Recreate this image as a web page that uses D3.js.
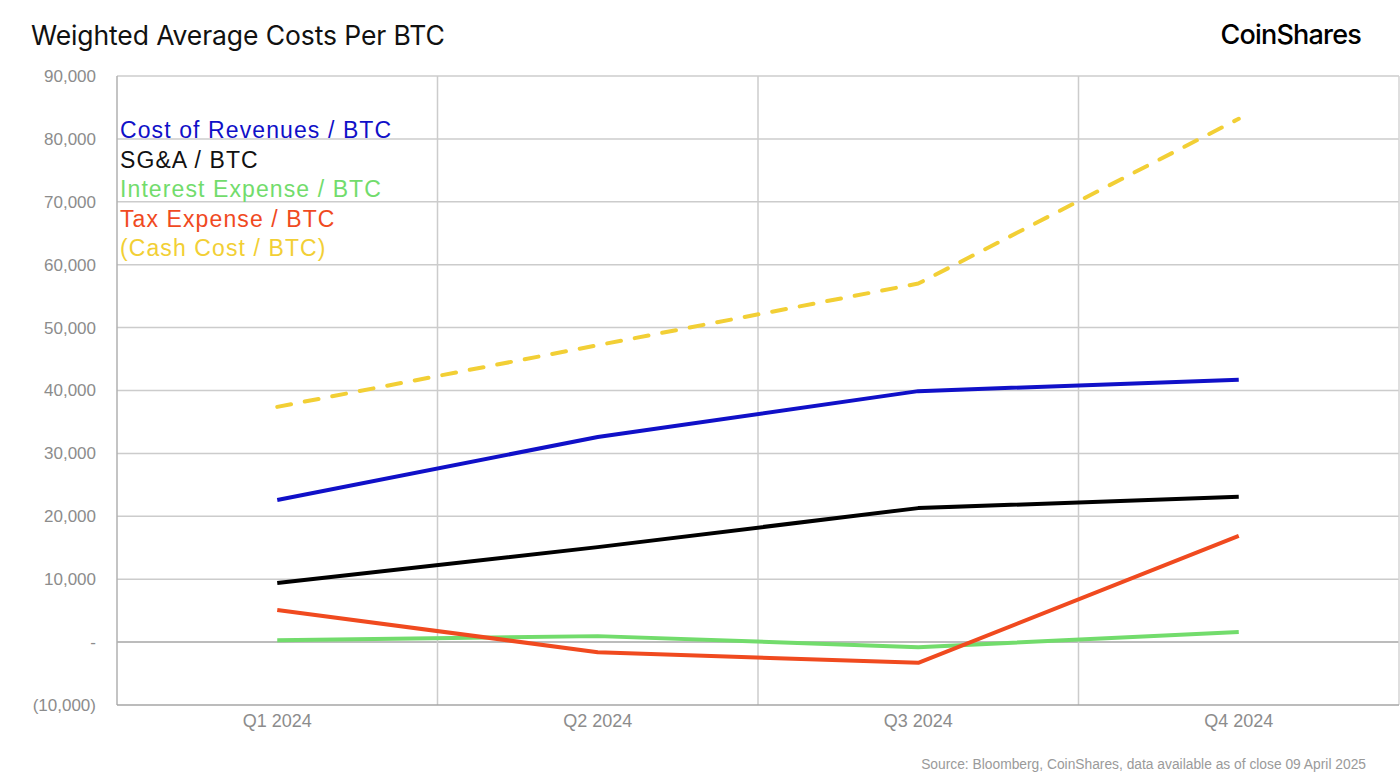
<!DOCTYPE html>
<html>
<head>
<meta charset="utf-8">
<script src="https://cdn.jsdelivr.net/npm/d3@7"></script>
<style>
	body { margin: 0; background: #fff; }
	svg { display: block; }
</style>
</head>
<body>
<div id="chart"></div>
<script>
var width = 1400;
var height = 782;

// quarters along the x axis
var quarters = ["Q1 2024", "Q2 2024", "Q3 2024", "Q4 2024"];

// values, USD per BTC
var costOfRevenues = [22600, 32600, 39900, 41700];
var sgaCost = [9400, 15100, 21300, 23100];
var interestExpense = [300, 950, -800, 1600];
var taxExpense = [5100, -1600, -3300, 16900];
var cashCost = [37400, 47200, 57000, 83200];

var yTicks = [-10000, 0, 10000, 20000, 30000, 40000, 50000, 60000, 70000, 80000, 90000];

var series = [
	{ name: "Cost of Revenues / BTC", values: costOfRevenues, color: "#1010c8", dash: null },
	{ name: "SG&A / BTC", values: sgaCost, color: "#000000", dash: null },
	{ name: "Interest Expense / BTC", values: interestExpense, color: "#72dc6c", dash: null },
	{ name: "Tax Expense / BTC", values: taxExpense, color: "#f04a1f", dash: null },
	{ name: "(Cash Cost / BTC)", values: cashCost, color: "#f2cf35", dash: "14,14" }
	];

// draw order: yellow behind, then the rest as in the picture
var drawOrder = [4, 2, 3, 1, 0];

var plot = { left: 117, right: 1399, top: 76, bottom: 705 };

var svg = d3.select("#chart")
	.append("svg")
		.attr("width", width)
		.attr("height", height)
	;

var x = d3.scaleBand()
	.domain(quarters)
	.range([plot.left, plot.right]);

var y = d3.scaleLinear()
	.domain([-10000, 90000])
	.range([plot.bottom, plot.top]);

// horizontal gridlines
svg.append("g")
	.selectAll("line")
	.data(yTicks.filter(d => d !== -10000))
	.enter()
		.append("line")
			.attr("x1", plot.left)
			.attr("x2", plot.right)
			.attr("y1", d => y(d))
			.attr("y2", d => y(d))
			.attr("stroke", d => d === 0 ? "#a6a6a6" : "#cccccc")
			.attr("stroke-width", 1.5)
	;

// vertical gridlines between quarters, plus right border
svg.append("g")
	.selectAll("line")
	.data(quarters.slice(1))
	.enter()
		.append("line")
			.attr("x1", d => x(d))
			.attr("x2", d => x(d))
			.attr("y1", plot.top)
			.attr("y2", plot.bottom)
			.attr("stroke", "#cccccc")
			.attr("stroke-width", 1.5)
	;

svg.append("line")
	.attr("x1", plot.right).attr("x2", plot.right)
	.attr("y1", plot.top).attr("y2", plot.bottom)
	.attr("stroke", "#d4d4d4").attr("stroke-width", 1.5);

// axis lines
svg.append("line")
	.attr("x1", plot.left).attr("x2", plot.left)
	.attr("y1", plot.top).attr("y2", plot.bottom)
	.attr("stroke", "#b0b0b0").attr("stroke-width", 1.5);

svg.append("line")
	.attr("x1", plot.left).attr("x2", plot.right)
	.attr("y1", plot.bottom).attr("y2", plot.bottom)
	.attr("stroke", "#a6a6a6").attr("stroke-width", 1.5);

// y axis labels, accounting style
function fmt(v) {
	if (v === 0) return "-";
	var s = d3.format(",")(Math.abs(v));
	return v < 0 ? "(" + s + ")" : s;
}

var yAxis = d3.axisLeft(y)
	.tickValues(yTicks)
	.tickFormat(fmt)
	.tickSize(0)
	.tickPadding(0);

svg.append("g")
	.attr("transform", "translate(96,0)")
	.call(yAxis)
	.call(g => g.select(".domain").remove())
	.selectAll("text")
		.attr("fill", "#8c8c8c")
		.attr("font-family", "'Liberation Sans', Arial, sans-serif")
		.attr("font-size", 17)
	;

// x axis labels
var xAxis = d3.axisBottom(x)
	.tickSize(0)
	.tickPadding(0);

svg.append("g")
	.attr("transform", "translate(0,714)")
	.call(xAxis)
	.call(g => g.select(".domain").remove())
	.selectAll("text")
		.attr("fill", "#8c8c8c")
		.attr("font-family", "'Liberation Sans Narrow', 'Liberation Sans', Arial, sans-serif")
		.attr("font-size", 18)
	;

// lines (straight segments, as in the source)
var line = d3.line()
	.x((d, i) => x(quarters[i]) + x.bandwidth() / 2)
	.y(d => y(d));

svg.append("g")
	.selectAll("path")
	.data(drawOrder.map(i => series[i]))
	.enter()
		.append("path")
			.attr("d", d => line(d.values))
			.attr("fill", "none")
			.attr("stroke", d => d.color)
			.attr("stroke-width", 4)
			.attr("stroke-linecap", d => d.dash ? "round" : "butt")
			.attr("stroke-linejoin", "round")
			.attr("stroke-dasharray", d => d.dash)
	;

// legend as coloured text inside the plot
svg.append("g")
	.selectAll("text")
	.data(series)
	.enter()
		.append("text")
			.attr("x", 120)
			.attr("y", (d, i) => 138 + i * 29.5)
			.attr("fill", d => d.color === "#000000" ? "#111" : d.color)
			.attr("font-family", "'Liberation Sans', Arial, sans-serif")
			.attr("font-size", 23)
			.attr("letter-spacing", 1.1)
			.text(d => d.name)
	;

// title
svg.append("text")
	.attr("x", 31)
	.attr("y", 45)
	.attr("fill", "#111")
	.attr("font-family", "Inter, 'Liberation Sans', sans-serif")
	.attr("font-size", 26.5)
	.attr("letter-spacing", -0.1)
	.text("Weighted Average Costs Per BTC");

// logo
svg.append("text")
	.attr("x", 1361)
	.attr("y", 44)
	.attr("text-anchor", "end")
	.attr("fill", "#000")
	.attr("font-family", "Inter, 'Liberation Sans', sans-serif")
	.attr("font-size", 27)
	.attr("font-weight", 500)
	.attr("letter-spacing", -0.8)
	.text("CoinShares");

// source note
svg.append("text")
	.attr("x", 1366)
	.attr("y", 769)
	.attr("text-anchor", "end")
	.attr("fill", "#9a9a9a")
	.attr("font-family", "'Liberation Sans Narrow', 'Liberation Sans', Arial, sans-serif")
	.attr("font-size", 13.8)
	.text("Source: Bloomberg, CoinShares, data available as of close 09 April 2025");
</script>
</body>
</html>
